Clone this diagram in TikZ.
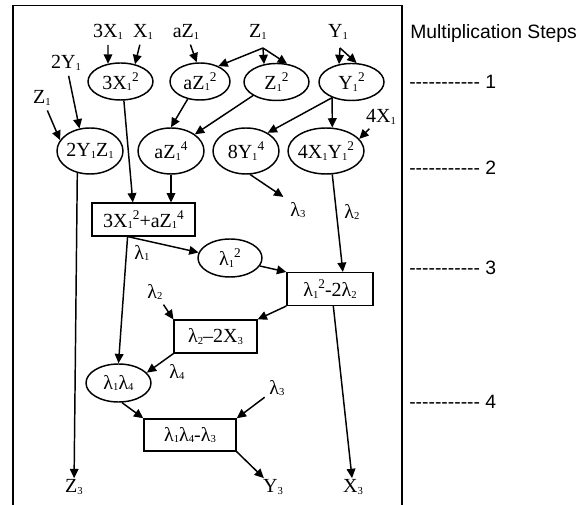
\documentclass[tikz,border=0pt]{standalone}
\usepackage{fontspec}
\setmainfont{Liberation Serif}
\newfontfamily\stepfont{Liberation Sans}
\usepackage{tikz}
\usetikzlibrary{shapes.geometric}
\usetikzlibrary{arrows.meta}

\newcommand{\lsub}[1]{\raisebox{-1pt}{\fontsize{8}{9}\selectfont#1}}
\newcommand{\lsup}[1]{\raisebox{6pt}{\fontsize{10}{11}\selectfont#1}}
\newcommand{\steprule}{-{}-{}-{}-{}-{}-{}-{}-{}-{}-{}-}

\begin{document}
\begin{tikzpicture}[x=0.75pt,y=-0.75pt,
  every node/.style={font=\fontsize{15}{17}\selectfont},
  lbl/.style={inner sep=1pt},
  oval/.style={ellipse,draw,line width=1.1pt,inner ysep=0pt,inner xsep=-4pt,minimum width=48.75pt,minimum height=27.75pt},
  tall/.style={oval,minimum width=49.5pt,minimum height=34.5pt},
  box/.style={rectangle,draw,line width=1.1pt,inner sep=1pt,minimum height=24.5pt},
  conn/.style={-{Triangle[length=7pt,width=6.5pt]},line width=1.1pt},
  stepmark/.style={anchor=west,inner sep=0pt,font=\stepfont\fontsize{14.5}{16}\selectfont}]
\useasboundingbox (0,0) rectangle (581,505);
\draw[line width=1.2pt] (13,505) -- (13,5.5) -- (402,5.5) -- (402,505);

% inputs
\node[lbl] (l3X) at (108,32) {3X\lsub{1}};
\node[lbl] (lX) at (143,32) {X\lsub{1}};
\node[lbl] (laZ) at (186,32) {aZ\lsub{1}};
\node[lbl] (lZa) at (258,32) {Z\lsub{1}};
\node[lbl] (lY) at (338,32) {Y\lsub{1}};
\node[lbl] (l2Y) at (66,63) {2Y\lsub{1}};
\node[lbl] (lZb) at (42,98) {Z\lsub{1}};
\node[lbl] (l4X) at (381,117) {4X\lsub{1}};
\coordinate (zfork) at (263,48);
\coordinate (yfork) at (340,48);

% step 1
\node[oval] (x1sq) at (120.5,81.5) {3X\lsub{1}\lsup{2}};
\node[oval,minimum width=45pt] (az1sq) at (200,81.5) {aZ\lsub{1}\lsup{2}};
\node[oval] (z1sq) at (276.5,82) {Z\lsub{1}\lsup{2}};
\node[oval] (y1sq) at (351.5,82) {Y\lsub{1}\lsup{2}};

% step 2
\node[tall] (yz) at (90,151) {2Y\lsub{1}Z\lsub{1}};
\node[tall] (az1q) at (171,151) {aZ\lsub{1}\lsup{4}};
\node[tall] (y1q) at (246,151) {8Y\lsub{1}\lsup{4}};
\node[tall,minimum width=57pt] (xysq) at (326,151) {4X\lsub{1}Y\lsub{1}\lsup{2}};
\node[box,minimum width=77pt] (sumbox) at (143.5,219.5) {3X\lsub{1}\lsup{2}+aZ\lsub{1}\lsup{4}};

% step 3
\node[oval,minimum width=48pt,minimum height=28.5pt] (lsq) at (230,258) {λ\lsub{1}\lsup{2}};
\node[box,minimum width=64.5pt] (diffbox) at (330,289) {λ\lsub{1}\lsup{2}-2λ\lsub{2}};
\node[box,minimum width=62pt] (x3box) at (215.5,336.5) {λ\lsub{2}–2X\lsub{3}};

% step 4
\node[oval,minimum height=28.5pt] (lprod) at (118.5,383) {λ\lsub{1}λ\lsub{4}};
\node[box,minimum width=69pt,minimum height=24pt] (y3box) at (190,435) {λ\lsub{1}λ\lsub{4}-λ\lsub{3}};

\node[lbl] (lam3a) at (298,210) {λ\lsub{3}};
\node[lbl] (lam2a) at (352,212) {λ\lsub{2}};
\node[lbl] (lam1) at (142,253) {λ\lsub{1}};
\node[lbl] (lam2b) at (155,292) {λ\lsub{2}};
\node[lbl] (lam4) at (177,372) {λ\lsub{4}};
\node[lbl] (lam3b) at (277,388) {λ\lsub{3}};
\node[lbl] (z3) at (74,487) {Z\lsub{3}};
\node[lbl] (y3) at (273,487) {Y\lsub{3}};
\node[lbl] (x3) at (353,487) {X\lsub{3}};

\foreach \a/\b in {l3X/x1sq.125, lX/x1sq.50, laZ/az1sq.100, l2Y/yz.115,
    lZb/yz.160, l4X/xysq.20, lam2b/x3box.north west, lam3b/y3box.north east}
  \draw[conn,shorten <=3pt] (\a) -- (\b);
\foreach \a/\b in {zfork/az1sq.40, zfork/z1sq.125, zfork/z1sq.60,
    yfork/y1sq.125, yfork/y1sq.75,
    x1sq.280/sumbox.122, az1sq.235/az1q.north, z1sq.210/az1q.35,
    az1q.south/sumbox.north -| az1q, y1sq.219/y1q.40, y1sq.219/xysq.75,
    xysq.285/diffbox.53, sumbox.227/lsq.170, sumbox.227/lprod.north,
    lsq.345/diffbox.north west, diffbox.south west/x3box.north east,
    diffbox.281/x3, x3box.south west/lprod.20, lprod.280/y3box.north west,
    y3box.south east/y3, yz.240/z3}
  \draw[conn] (\a) -- (\b);
\draw[conn,shorten >=5pt] (y1q.280) -- (lam3a.north west);

\node[stepmark] (title) at (410,34) {Multiplication Steps};
\node[stepmark] (s1) at (409,82) {\steprule\ 1};
\node[stepmark] (s2) at (409,168) {\steprule\ 2};
\node[stepmark] (s3) at (409,268) {\steprule\ 3};
\node[stepmark] (s4) at (409,402) {\steprule\ 4};
\end{tikzpicture}
\end{document}
